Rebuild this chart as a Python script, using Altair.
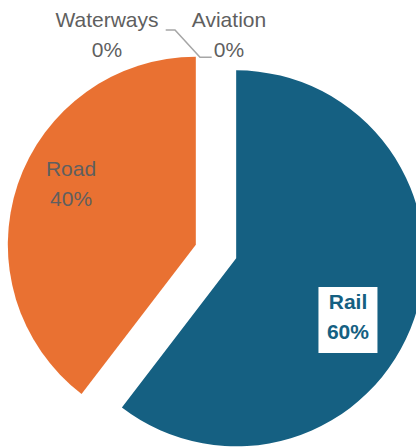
import altair as alt
import pandas as pd

# ---- data ----
categories = ["Rail", "Road", "Waterways", "Aviation"]
shares = [60.4, 39.6, 0.0, 0.0]
pct_labels = ["60%", "40%", "0%", "0%"]
slice_colors = ["#156082", "#E97132", "#A02B93", "#0F9ED5"]

# leader line (annotation) points
leader_x = [165.7, 175.0, 200.0, 211.7]
leader_y = [30.0, 30.0, 57.3, 57.3]

# ---- layout / style ----
W, H = 416, 447
CX, CY, R = 216.0, 251.5, 188.0
EXPLODE = 21.3
LABEL_R = 125.0
FONT = "Liberation Sans"
FS = 21
GREY = "#5f5f5f"
LINE_H = 30
BOX_W, BOX_H = 59, 66

# per-label nudges (dx, dy) from the computed polar anchor
NUDGE = {
    "Rail": (-6.6, 19.6),
    "Road": (-6.4, -19.6),
    "Waterways": (-109.0, -69.7),
    "Aviation": (13.0, -69.7),
}

df = pd.DataFrame({"cat": categories, "share": shares, "pct": pct_labels,
                   "order": list(range(len(categories)))})

base = (
    alt.Chart(df)
    .transform_joinaggregate(total="sum(share)")
    .transform_window(cum="sum(share)", sort=[alt.SortField("order", order="ascending")],
                      frame=[None, 0])
    .transform_calculate(
        t1="2*PI*datum.cum/datum.total",
        t0="2*PI*(datum.cum-datum.share)/datum.total",
    )
    .transform_calculate(mid="(datum.t0+datum.t1)/2")
    .transform_calculate(
        px=f"{CX}+{EXPLODE}*sin(datum.mid)",
        py=f"{CY}-{EXPLODE}*cos(datum.mid)",
    )
    .transform_calculate(
        lx=f"datum.px+{LABEL_R}*sin(datum.mid)",
        ly=f"datum.py-{LABEL_R}*cos(datum.mid)",
        label="datum.cat + '\\n' + datum.pct",
    )
)

arcs = base.mark_arc(radius=R).encode(
    theta=alt.Theta("t0:Q", scale=None),
    theta2="t1:Q",
    x=alt.X("px:Q", scale=None, axis=None),
    y=alt.Y("py:Q", scale=None, axis=None),
    color=alt.Color("cat:N", scale=alt.Scale(domain=categories, range=slice_colors), legend=None),
)

layers = [arcs]

# white box behind the Rail label
dxr, dyr = NUDGE["Rail"]
box = (
    base.transform_filter("datum.cat == 'Rail'")
    .transform_calculate(
        bx1=f"datum.lx+({dxr})-{BOX_W/2}",
        bx2=f"datum.lx+({dxr})+{BOX_W/2}",
        by1=f"datum.ly+({dyr})-{BOX_H/2}+2",
        by2=f"datum.ly+({dyr})+{BOX_H/2}+2",
    )
    .mark_rect(color="white")
    .encode(
        x=alt.X("bx1:Q", scale=None, axis=None), x2="bx2:Q",
        y=alt.Y("by1:Q", scale=None, axis=None), y2="by2:Q",
    )
)
layers.append(box)

for cat in categories:
    dx, dy = NUDGE[cat]
    is_rail = cat == "Rail"
    t = (
        base.transform_filter(f"datum.cat == '{cat}'")
        .mark_text(
            font=FONT, fontSize=FS,
            fontWeight="bold" if is_rail else "normal",
            color="#156082" if is_rail else GREY,
            align="center", baseline="middle",
            lineHeight=LINE_H, lineBreak="\n", dx=dx, dy=dy - LINE_H / 2,
        )
        .encode(
            x=alt.X("lx:Q", scale=None, axis=None),
            y=alt.Y("ly:Q", scale=None, axis=None),
            text=alt.Text("label:N"),
        )
    )
    layers.append(t)

leader_df = pd.DataFrame({"lx": leader_x, "ly": leader_y, "i": list(range(len(leader_x)))})
leader = alt.Chart(leader_df).mark_line(color="#a6a6a6", strokeWidth=1.5).encode(
    x=alt.X("lx:Q", scale=None, axis=None),
    y=alt.Y("ly:Q", scale=None, axis=None),
    order="i:O",
)
layers.append(leader)

chart = (
    alt.layer(*layers)
    .properties(width=W, height=H, autosize=alt.AutoSizeParams(type="none"),
                padding=0, background="white")
    .configure_view(strokeWidth=0)
)

chart.save("out.html", embed_options={"renderer": "svg", "actions": False})
